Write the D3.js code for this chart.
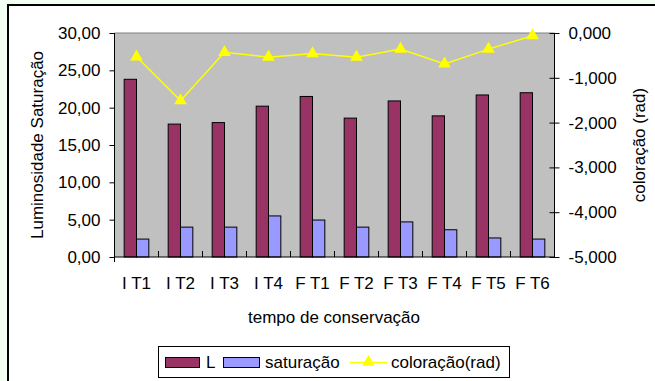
<!DOCTYPE html>
<html>
<head>
<meta charset="utf-8">
<script src="https://cdn.jsdelivr.net/npm/d3@7"></script>
<style>
  html, body { margin: 0; padding: 0; background: #f4fff4; }
  svg { display: block; }
  text { font-family: Arial, "Liberation Sans", sans-serif; fill: #000; }
</style>
</head>
<body>
<svg id="chart" width="655" height="381"></svg>
<script>
// Categories: storage time (I = início, F = final)
const categories = ["I T1", "I T2", "I T3", "I T4", "F T1", "F T2", "F T3", "F T4", "F T5", "F T6"];
// Luminosidade (L)
const luminosidade = [23.8, 17.8, 18.0, 20.2, 21.5, 18.6, 20.9, 18.9, 21.7, 22.0];
// Saturação
const saturacao = [2.4, 4.0, 4.0, 5.5, 4.95, 4.0, 4.7, 3.65, 2.55, 2.4];
// Coloração (rad), right axis
const coloracao = [-0.53, -1.51, -0.43, -0.54, -0.46, -0.54, -0.36, -0.69, -0.36, -0.06];
// Tick values
const leftTicks = [0, 5, 10, 15, 20, 25, 30];
const rightTicks = [0, -1, -2, -3, -4, -5];

const FS = 17;
const svg = d3.select("#chart");
const fmt2 = v => d3.format(".2f")(v).replace(".", ",");
const fmt3 = v => d3.format(".3f")(v).replace(".", ",").replace("\u2212", "-");

// Chart frame
svg.append("rect").attr("x", 8).attr("y", 5).attr("width", 660).attr("height", 390)
  .attr("fill", "#fff").attr("stroke", "#000").attr("stroke-width", 2);

const plot = { left: 114.5, right: 554.5, top: 33, bottom: 257 };

const x = d3.scaleBand().domain(categories).range([plot.left, plot.right]).paddingInner(0).paddingOuter(0);
const yL = d3.scaleLinear().domain([0, 30]).range([plot.bottom, plot.top]);
const yR = d3.scaleLinear().domain([-5, 0]).range([plot.bottom, plot.top]);

// Plot area
svg.append("rect").attr("x", plot.left).attr("y", plot.top)
  .attr("width", plot.right - plot.left).attr("height", plot.bottom - plot.top)
  .attr("fill", "#c0c0c0");
svg.append("line").attr("x1", plot.left).attr("x2", plot.right)
  .attr("y1", plot.top).attr("y2", plot.top).attr("stroke", "#808080");

// Bars
const bw = x.bandwidth() * 0.28;
const groupStart = d => x(d) + x.bandwidth() / 2 - bw;

svg.append("g").selectAll("rect").data(categories).join("rect")
  .attr("x", (d) => groupStart(d))
  .attr("y", (d, i) => yL(luminosidade[i]))
  .attr("width", bw)
  .attr("height", (d, i) => yL(0) - yL(luminosidade[i]))
  .attr("fill", "#993366").attr("stroke", "#000").attr("stroke-width", 1);

svg.append("g").selectAll("rect").data(categories).join("rect")
  .attr("x", (d) => groupStart(d) + bw)
  .attr("y", (d, i) => yL(saturacao[i]))
  .attr("width", bw)
  .attr("height", (d, i) => yL(0) - yL(saturacao[i]))
  .attr("fill", "#9999ff").attr("stroke", "#000").attr("stroke-width", 1);

// Coloração line with triangle markers
const cx = d => x(d) + x.bandwidth() / 2;
const line = d3.line().x((d, i) => cx(categories[i])).y(d => yR(d));
svg.append("path").datum(coloracao).attr("d", line)
  .attr("fill", "none").attr("stroke", "#ffff00").attr("stroke-width", 1.5);
const tri = d3.symbol().type(d3.symbolTriangle).size(70);
svg.append("g").selectAll("path").data(coloracao).join("path")
  .attr("transform", (d, i) => `translate(${cx(categories[i])},${yR(d)})`)
  .attr("d", tri).attr("fill", "#ffff00");

// Left axis
const axL = svg.append("g").attr("transform", `translate(${plot.left},0)`)
  .call(d3.axisLeft(yL).tickValues(leftTicks).tickFormat(fmt2).tickSize(5).tickPadding(9));
axL.select(".domain").attr("stroke", "#000").attr("d", `M0,${plot.top}V${plot.bottom + 5}`);
axL.selectAll("text").attr("font-size", FS).attr("font-family", "Arial, 'Liberation Sans', sans-serif").attr("fill", "#000");

// Right axis
const axR = svg.append("g").attr("transform", `translate(${plot.right},0)`)
  .call(d3.axisRight(yR).tickValues(rightTicks).tickFormat(fmt3).tickSize(5).tickPadding(9));
axR.select(".domain").attr("stroke", "#000").attr("d", `M0,${plot.top}V${plot.bottom}`);
axR.selectAll(".tick line").attr("x1", -5);
axR.selectAll("text").attr("font-size", FS).attr("font-family", "Arial, 'Liberation Sans', sans-serif").attr("fill", "#000");

// Bottom axis: category boundary ticks pointing into the plot
const axB = svg.append("g").attr("transform", `translate(0,${plot.bottom})`);
axB.append("line").attr("x1", plot.left).attr("x2", plot.right).attr("stroke", "#000");
axB.selectAll("line.tk").data(categories).join("line").attr("class", "tk")
  .attr("x1", d => x(d)).attr("x2", d => x(d)).attr("y1", 0).attr("y2", -6).attr("stroke", "#000");
axB.selectAll("text").data(categories).join("text")
  .attr("x", d => cx(d)).attr("y", 32).attr("text-anchor", "middle")
  .attr("font-size", FS).text(d => d);

// Axis titles
svg.append("text").attr("x", 334).attr("y", 323).attr("text-anchor", "middle")
  .attr("font-size", FS).text("tempo de conservação");
svg.append("text").attr("transform", `translate(43,${(plot.top + plot.bottom) / 2}) rotate(-90)`)
  .attr("text-anchor", "middle").attr("font-size", FS).text("Luminosidade Saturação");
svg.append("text").attr("transform", `translate(645,${(plot.top + plot.bottom) / 2}) rotate(-90)`)
  .attr("text-anchor", "middle").attr("font-size", FS).text("coloração (rad)");

// Legend
const lg = svg.append("g");
lg.append("rect").attr("x", 158.5).attr("y", 346.5).attr("width", 351).attr("height", 31)
  .attr("fill", "#fff").attr("stroke", "#000");
lg.append("rect").attr("x", 165.5).attr("y", 357.5).attr("width", 34).attr("height", 10)
  .attr("fill", "#993366").attr("stroke", "#000");
lg.append("text").attr("x", 206).attr("y", 368).attr("font-size", FS).text("L");
lg.append("rect").attr("x", 223.5).attr("y", 357.5).attr("width", 36).attr("height", 10)
  .attr("fill", "#9999ff").attr("stroke", "#000");
lg.append("text").attr("x", 265).attr("y", 368).attr("font-size", FS).text("saturação");
lg.append("line").attr("x1", 350).attr("x2", 387).attr("y1", 362.5).attr("y2", 362.5)
  .attr("stroke", "#ffff00").attr("stroke-width", 1.5);
lg.append("path").attr("transform", "translate(368.5,362)").attr("d", tri).attr("fill", "#ffff00");
lg.append("text").attr("x", 391).attr("y", 368).attr("font-size", FS).text("coloração(rad)");
</script>
</body>
</html>
